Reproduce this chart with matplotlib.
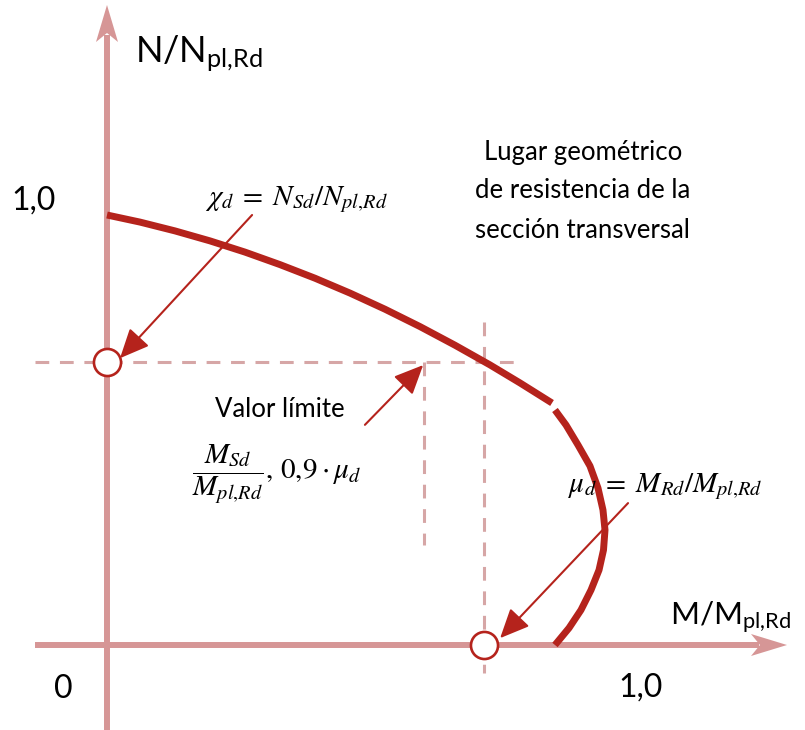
import matplotlib
matplotlib.use("Agg")
import matplotlib.pyplot as plt
from matplotlib.patches import Polygon, FancyArrowPatch

plt.rcParams["mathtext.fontset"] = "stix"
plt.rcParams["font.family"] = ["Lato", "DejaVu Sans"]

# Interaction curve N/Npl,Rd vs M/Mpl,Rd (two branches)
m_upper = [0.0, 0.0635, 0.1308, 0.1981, 0.2654, 0.3327, 0.4000, 0.4673, 0.5346,
           0.6019, 0.6692, 0.7365, 0.7942, 0.8558]
n_upper = [1.0, 0.9835, 0.9630, 0.9398, 0.9137, 0.8846, 0.8530, 0.8184, 0.7809,
           0.7405, 0.6972, 0.6514, 0.6095, 0.5628]
m_lower = [0.8615, 0.8827, 0.9058, 0.9288, 0.9442, 0.9538, 0.9577, 0.9548, 0.9462,
           0.9308, 0.9115, 0.8885, 0.8615]
n_lower = [0.5465, 0.5116, 0.4651, 0.4163, 0.3651, 0.3140, 0.2674, 0.2209, 0.1744,
           0.1279, 0.0814, 0.0395, 0.0]

chi_d = 0.658      # N_Sd / N_pl,Rd
mu_d = 0.725       # M_Rd / M_pl,Rd
m_limit = 0.610    # limiting value of M_Sd / M_pl,Rd
limit_low = 0.233

tick_labels = ["0", "1,0", "1,0"]

AXIS_C = "#d69696"
DASH_C = "#d6a6a6"
CURVE_C = "#b5231c"

fig = plt.figure(figsize=(8.05, 7.30), dpi=100)
ax = fig.add_axes([0, 0, 1, 1])
SX, SY = 520.0, 430.0          # pixels per unit on each axis
ax.set_xlim(-107 / SX, 698 / SX)
ax.set_ylim(-85 / SY, 645 / SY)
ax.axis("off")

# --- coordinate axes with arrowheads ---
y_tip = 640 / SY
x_tip = 680 / SX
ax.plot([0, 0], [-85 / SY, y_tip - 30 / SY], color=AXIS_C, lw=4.3, solid_capstyle="butt", zorder=1)
ax.plot([-72 / SX, x_tip - 28 / SX], [0, 0], color=AXIS_C, lw=4.3, solid_capstyle="butt", zorder=1)
ax.add_patch(Polygon([(0, y_tip), (11 / SX, y_tip - 37 / SY), (0, y_tip - 28 / SY),
                      (-11 / SX, y_tip - 37 / SY)], closed=True, color=AXIS_C, lw=0, zorder=1))
ax.add_patch(Polygon([(x_tip, 0), (x_tip - 36 / SX, 11 / SY), (x_tip - 27 / SX, 0),
                      (x_tip - 36 / SX, -11 / SY)], closed=True, color=AXIS_C, lw=0, zorder=1))

# --- dashed reference lines ---
dash = dict(color=DASH_C, lw=2.2, dashes=(4.5, 3.5), zorder=2)
ax.plot([-72 / SX, 0.788], [chi_d, chi_d], **dash)
ax.plot([mu_d, mu_d], [0.751, -0.065], **dash)
ax.plot([m_limit, m_limit], [chi_d, limit_low], **dash)

# --- resistance curve ---
curve = dict(color=CURVE_C, lw=5.0, solid_capstyle="butt", solid_joinstyle="round", zorder=3)
ax.plot(m_upper, n_upper, **curve)
ax.plot(m_lower, n_lower, **curve)

# --- marker circles ---
ax.plot([0, mu_d], [chi_d, 0], "o", ms=19.5, mfc="white", mec=CURVE_C, mew=1.9, zorder=5)


def pointer(x0, y0, x1, y1):
    ax.add_patch(FancyArrowPatch((x0, y0), (x1, y1),
                                 arrowstyle="-|>,head_length=1.0,head_width=0.45",
                                 mutation_scale=18, color=CURVE_C, lw=1.5,
                                 shrinkA=0, shrinkB=0, zorder=6))


pointer(0.279, 1.0, 0.025, 0.667)
pointer(0.496, 0.512, 0.608, 0.651)
pointer(1.002, 0.330, 0.756, 0.016)

# --- tick values ---
ax.text(-0.142, 1.012, tick_labels[1], fontsize=23, ha="center", va="baseline")
ax.text(-0.0846, -0.123, tick_labels[0], fontsize=23, ha="center", va="baseline")
ax.text(1.027, -0.121, tick_labels[2], fontsize=23, ha="center", va="baseline")

# --- axis titles ---
ax.text(0.0538, 1.356, r"$\mathregular{N/N_{pl{,}Rd}}$", fontsize=26, ha="left", va="baseline")
ax.text(1.0827, 0.0465, r"$\mathregular{M/M_{pl{,}Rd}}$", fontsize=22.5, ha="left", va="baseline")

# --- annotations ---
desc = ["Lugar geométrico", "de resistencia de la", "sección transversal"]
for line, yb in zip(desc, [1.128, 1.0395, 0.9465]):
    ax.text(0.915, yb, line, fontsize=18.5, ha="center", va="baseline")

ax.text(0.2077, 0.530, "Valor límite", fontsize=18.5, ha="left", va="baseline")
ax.text(0.1635, 0.388, r"$\dfrac{M_{Sd}}{M_{pl{,}Rd}},\, 0{,}9\cdot\mu_d$", fontsize=21,
        ha="left", va="baseline")
ax.text(0.1885, 1.023, r"$\chi_d\;=\;N_{Sd}/N_{pl{,}Rd}$", fontsize=21, ha="left", va="baseline")
ax.text(0.8865, 0.356, r"$\mu_d\;=\;M_{Rd}/M_{pl{,}Rd}$", fontsize=21, ha="left", va="baseline")

fig.savefig("out.png", dpi=100, facecolor="white")
